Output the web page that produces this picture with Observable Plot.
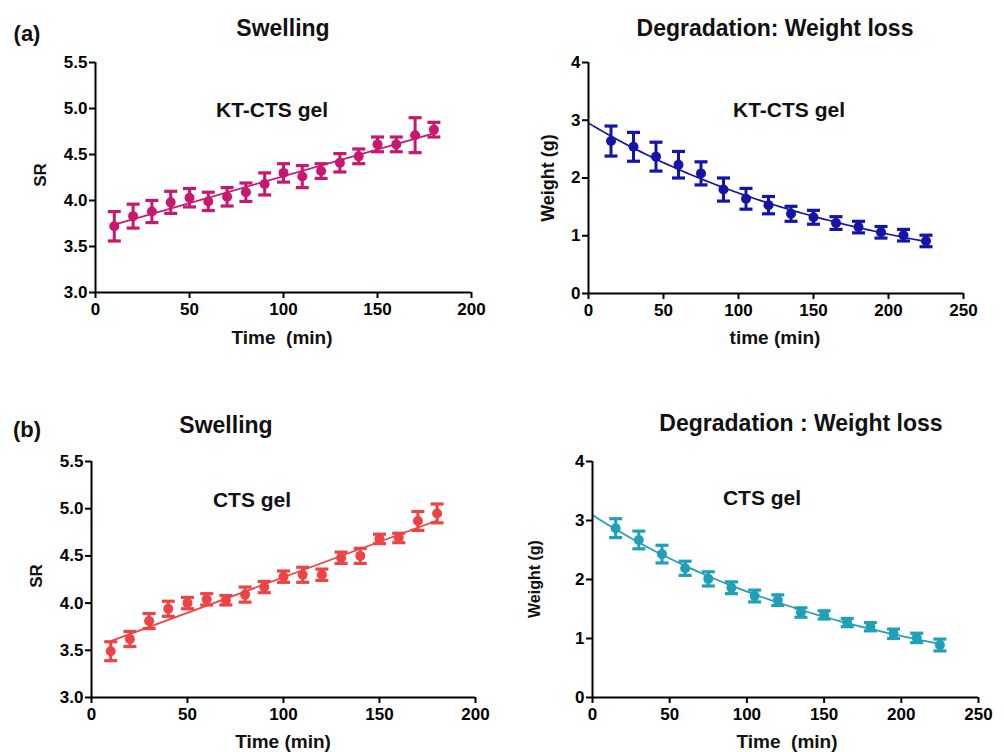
<!DOCTYPE html>
<html><head><meta charset="utf-8">
<script src="https://cdn.jsdelivr.net/npm/d3@7"></script>
<script src="https://cdn.jsdelivr.net/npm/@observablehq/plot@0.6"></script>
<style>
body{margin:0;background:#fff;}
#root{position:relative;width:1004px;height:752px;font-family:"Liberation Sans",Arial,sans-serif;font-weight:bold;color:#111;overflow:hidden;background:#fff}
.t{position:absolute;white-space:pre;line-height:1;transform:translate(-50%,-50%);}
.r{transform:translate(-50%,-50%) rotate(-90deg);}
.p{position:absolute;}
</style></head><body><div id="root"></div>
<script>
// ---- data ----
const swellTime = [10,20,30,40,50,60,70,80,90,100,110,120,130,140,150,160,170,180];
const swellKT    = [3.72,3.83,3.88,3.98,4.03,3.99,4.04,4.09,4.18,4.30,4.26,4.32,4.41,4.48,4.61,4.61,4.71,4.77];
const swellKTErr = [0.16,0.13,0.12,0.12,0.10,0.10,0.10,0.10,0.12,0.10,0.12,0.08,0.10,0.08,0.08,0.08,0.19,0.08];
const swellCTS    = [3.49,3.62,3.81,3.94,4.00,4.04,4.03,4.09,4.17,4.28,4.30,4.30,4.48,4.50,4.68,4.69,4.87,4.95];
const swellCTSErr = [0.10,0.08,0.08,0.08,0.06,0.06,0.05,0.08,0.06,0.06,0.08,0.06,0.06,0.08,0.05,0.05,0.10,0.10];
const degTime = [15,30,45,60,75,90,105,120,135,150,165,180,195,210,225];
const degKT    = [2.64,2.54,2.37,2.23,2.08,1.80,1.64,1.53,1.38,1.32,1.22,1.15,1.06,1.01,0.91];
const degKTErr = [0.26,0.25,0.25,0.23,0.20,0.20,0.18,0.15,0.13,0.12,0.11,0.10,0.10,0.10,0.10];
const degCTS    = [2.87,2.67,2.43,2.19,2.01,1.86,1.72,1.65,1.44,1.40,1.27,1.20,1.08,1.01,0.89];
const degCTSErr = [0.16,0.15,0.15,0.12,0.12,0.10,0.10,0.09,0.08,0.07,0.07,0.07,0.08,0.08,0.10];
const swellTicksX = [0,50,100,150,200];
const swellTicksY = [3.0,3.5,4.0,4.5,5.0,5.5];
const degTicksX = [0,50,100,150,200,250];
const degTicksY = [0,1,2,3,4];

const root = document.getElementById("root");
const capSymbol = {draw(ctx, size){ const w = Math.sqrt(size/Math.PI); ctx.moveTo(-w,0); ctx.lineTo(w,0); }};

function expFit(ts, vs){
  // least squares y = a*exp(-b t), grid search on b with closed-form a
  let best = null;
  for (let b = 0.0005; b < 0.02; b += 0.00002){
    const e = ts.map(t => Math.exp(-b*t));
    const a = d3.sum(vs, (v,i)=>v*e[i]) / d3.sum(e, x=>x*x);
    const sse = d3.sum(vs, (v,i)=>(v - a*e[i])**2);
    if (!best || sse < best.sse) best = {a, b, sse};
  }
  return best;
}

function panel(o){
  const rows = o.time.map((t,i)=>({t, v:o.values[i], lo:o.values[i]-o.errs[i], hi:o.values[i]+o.errs[i]}));
  const marks = [];
  if (o.fit === "linear"){
    marks.push(Plot.linearRegressionY(rows, {x:"t", y:"v", stroke:o.color, strokeWidth:1.7, ci:0}));
  } else {
    const f = expFit(o.time, o.values);
    const curve = d3.range(0, d3.max(o.time)+0.001, 2.5).map(t=>({t, v:f.a*Math.exp(-f.b*t)}));
    marks.push(Plot.line(curve, {x:"t", y:"v", stroke:o.color, strokeWidth:1.7}));
  }
  marks.push(
    Plot.ruleX(rows, {x:"t", y1:"lo", y2:"hi", stroke:o.color, strokeWidth:3}),
    Plot.dot(rows, {x:"t", y:"lo", symbol:capSymbol, r:6.5, fill:"none", stroke:o.color, strokeWidth:3.2}),
    Plot.dot(rows, {x:"t", y:"hi", symbol:capSymbol, r:6.5, fill:"none", stroke:o.color, strokeWidth:3.2}),
    Plot.dot(rows, {x:"t", y:"v", r:5, fill:o.color, stroke:"none"}),
    Plot.axisX({ticks:o.xTicks, tickSize:6, tickPadding:4, strokeWidth:2, label:null}),
    Plot.axisY({ticks:o.yTicks, tickSize:6, tickPadding:2, strokeWidth:2, label:null, tickFormat:o.yFormat}),
    Plot.ruleY([o.yDomain[0]], {stroke:"#000", strokeWidth:2}),
    Plot.ruleX([o.xDomain[0]], {stroke:"#000", strokeWidth:2})
  );
  const chart = Plot.plot({
    width:o.width, height:o.height,
    marginLeft:o.m[0], marginRight:o.m[1], marginTop:o.m[2], marginBottom:o.m[3],
    x:{domain:o.xDomain}, y:{domain:o.yDomain},
    style:{fontFamily:'"Liberation Sans", Arial, sans-serif', fontSize:"17px", fontWeight:"bold", color:"#000", background:"transparent", overflow:"visible"},
    marks
  });
  const div = document.createElement("div");
  div.className = "p";
  div.style.left = o.left + "px"; div.style.top = o.top + "px";
  div.appendChild(chart);
  root.appendChild(div);
}

function label(text, x, y, size, rotate){
  const d = document.createElement("div");
  d.className = "t" + (rotate ? " r" : "");
  d.textContent = text;
  d.style.left = x + "px"; d.style.top = y + "px"; d.style.fontSize = size + "px";
  root.appendChild(d);
}

const f1 = d3.format(".1f"), f0 = d3.format("d");

panel({time:swellTime, values:swellKT, errs:swellKTErr, color:"#C8176F", fit:"linear",
  xDomain:[0,200], yDomain:[3,5.5], xTicks:swellTicksX, yTicks:swellTicksY, yFormat:f1,
  left:0, top:40, width:490, height:320, m:[95,19,22,68]});
panel({time:degTime, values:degKT, errs:degKTErr, color:"#1414A8", fit:"exp",
  xDomain:[0,250], yDomain:[0,4], xTicks:degTicksX, yTicks:degTicksY, yFormat:f0,
  left:500, top:40, width:490, height:320, m:[88,27,22,67]});
panel({time:swellTime, values:swellCTS, errs:swellCTSErr, color:"#EC4444", fit:"linear",
  xDomain:[0,200], yDomain:[3,5.5], xTicks:swellTicksX, yTicks:swellTicksY, yFormat:f1,
  left:0, top:440, width:490, height:312, m:[91,15,21,55]});
panel({time:degTime, values:degCTS, errs:degCTSErr, color:"#20A0B8", fit:"exp",
  xDomain:[0,250], yDomain:[0,4], xTicks:degTicksX, yTicks:degTicksY, yFormat:f0,
  left:500, top:440, width:504, height:312, m:[92,26,21,55]});

// titles and labels
label("(a)", 27, 34, 22);
label("Swelling", 283, 28, 23);
label("Degradation: Weight loss", 775, 28, 23);
label("KT-CTS gel", 272, 109, 21);
label("KT-CTS gel", 789, 109, 21);
label("Time\u00a0 (min)", 282, 337, 19);
label("time (min)", 775, 337, 19);
label("SR", 40, 175, 17, true);
label("Weight (g)", 548, 178, 18, true);

label("(b)", 27, 430, 22);
label("Swelling", 226, 425, 23);
label("Degradation : Weight loss", 801, 423, 23);
label("CTS gel", 252, 499, 21);
label("CTS gel", 762, 497, 21);
label("Time (min)", 283, 741, 19);
label("Time\u00a0 (min)", 787, 741, 19);
label("SR", 36, 576, 17, true);
label("Weight (g)", 535, 579, 16, true);
</script></body></html>
